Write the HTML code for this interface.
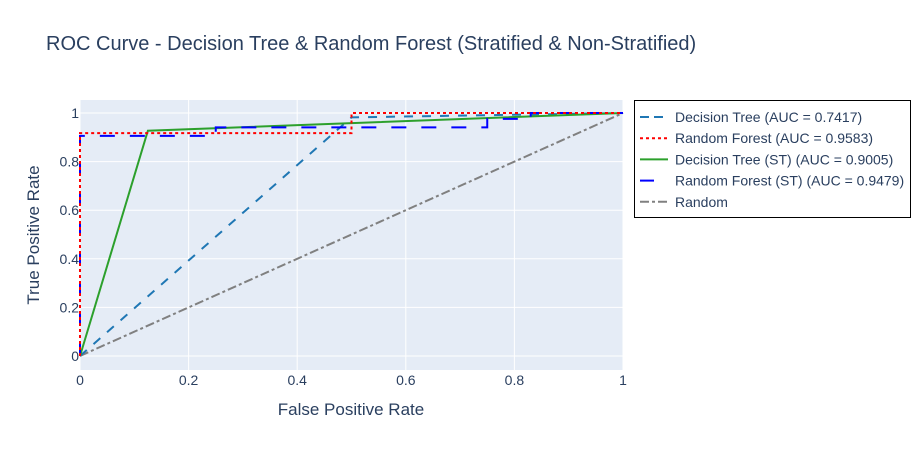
<!DOCTYPE html>
<html><head><meta charset="utf-8"><style>
body{margin:0;background:#fff;font-family:"Liberation Sans",sans-serif;}
svg text{font-family:"Liberation Sans",sans-serif;}
</style></head><body>
<svg id="c" width="923" height="450">
<rect width="923" height="450" fill="#fff"/>
<text x="46" y="50" font-size="20" fill="#2a3f5f">ROC Curve - Decision Tree &amp; Random Forest (Stratified &amp; Non-Stratified)</text>
<rect x="80" y="100" width="543" height="270" fill="#e5ecf6"/>
<g id="grid"></g>
<g id="series"></g>
<g id="ticks"></g>
<text x="351" y="415" font-size="17" fill="#2a3f5f" text-anchor="middle">False Positive Rate</text>
<text x="39" y="235" font-size="17" fill="#2a3f5f" text-anchor="middle" transform="rotate(-90 39 235)">True Positive Rate</text>
<g id="legend"><rect x="634.5" y="100.5" width="276" height="117" fill="#fff" stroke="#000" stroke-width="1"/></g>
</svg>
<script>
const tickVals=[0,0.2,0.4,0.6,0.8,1];
const tickLabels=["0","0.2","0.4","0.6","0.8","1"];
const seriesNames=["Decision Tree (AUC = 0.7417)","Random Forest (AUC = 0.9583)","Decision Tree (ST) (AUC = 0.9005)","Random Forest (ST) (AUC = 0.9479)","Random"];
const dtFpr=[0,0.5,1], dtTpr=[0,0.982,1];
const rfFpr=[0,0,0.5,0.5,1], rfTpr=[0,0.917,0.917,1,1];
const dtsFpr=[0,0.125,1], dtsTpr=[0,0.927,1];
const rfsFpr=[0,0,0.25,0.25,0.75,0.75,0.83,0.83,1], rfsTpr=[0,0.906,0.906,0.941,0.941,0.976,0.976,1,1];
const rndFpr=[0,1], rndTpr=[0,1];
const X=v=>80+v*543, Y=v=>356-v*243;
const NS="http://www.w3.org/2000/svg";
function mk(t,a,p){const e=document.createElementNS(NS,t);for(const k in a)e.setAttribute(k,a[k]);p.appendChild(e);return e;}
const g=document.getElementById('grid'),tk=document.getElementById('ticks'),s=document.getElementById('series'),lg=document.getElementById('legend');
tickVals.forEach((v,i)=>{
 const l1=mk('line',{x1:X(v),x2:X(v),y1:100,y2:370,stroke:'#fff','stroke-width':1},g);
 
 
 const l2=mk('line',{x1:80,x2:623,y1:Y(v),y2:Y(v),stroke:'#fff','stroke-width':1},g);
 
 
 const t1=mk('text',{x:X(v),y:385,'font-size':14,fill:'#2a3f5f','text-anchor':'middle'},tk);t1.textContent=tickLabels[i];
 
 
 const t2=mk('text',{x:79,y:Y(v)+5,'font-size':14,fill:'#2a3f5f','text-anchor':'end'},tk);t2.textContent=tickLabels[i];
 
 
});
const styles=[
 {c:'#1f77b4',d:'9,9',w:2,xs:dtFpr,ys:dtTpr,n:'line-decision-tree'},
 {c:'#ff0000',d:'3,3',w:2,xs:rfFpr,ys:rfTpr,n:'line-random-forest'},
 {c:'#2ca02c',d:'none',w:2,xs:dtsFpr,ys:dtsTpr,n:'line-decision-tree-st'},
 {c:'#0000ff',d:'15,15',w:2,xs:rfsFpr,ys:rfsTpr,n:'line-random-forest-st'},
 {c:'#808080',d:'9,3,3,3',w:2,xs:rndFpr,ys:rndTpr,n:'line-random'}];
const order=[4,0,2,3,1];
order.forEach(i=>{const st=styles[i];
 const p=mk('polyline',{points:st.xs.map((x,j)=>X(x)+','+Y(st.ys[j])).join(' '),fill:'none',stroke:st.c,'stroke-width':st.w,'stroke-dasharray':st.d},s);
 
 
});
styles.forEach((st,i)=>{const y=117+i*21.2;
 const l=mk('line',{x1:640,x2:668,y1:y,y2:y,stroke:st.c,'stroke-width':2,'stroke-dasharray':i==3?'14,14':(i==0?'9,5':st.d)},lg);
 
 
 const t=mk('text',{x:675,y:y+5,'font-size':14,fill:'#2a3f5f'},lg);t.textContent=seriesNames[i];
 
 
});
</script>
</body></html>
